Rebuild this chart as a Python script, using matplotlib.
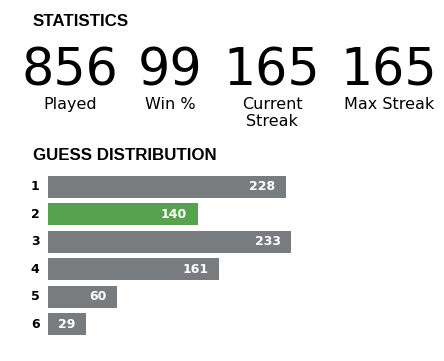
import numpy as np
import matplotlib
matplotlib.use("Agg")
import matplotlib.pyplot as plt

# ----------------------------
# DATA
# ----------------------------
stat_values = ["856", "99", "165", "165"]
stat_labels = ["Played", "Win %", "Current\nStreak", "Max Streak"]

guesses = ["1", "2", "3", "4", "5", "6"]
counts = np.array([228, 140, 233, 161, 60, 29])
highlight = 1  # index of the green bar

W, H = 444, 361
GRAY = "#787c7e"
GREEN = "#56a24f"


def fx(px):
    return px / W


def fy(py):
    return 1 - py / H


fig = plt.figure(figsize=(W / 100, H / 100), dpi=100)
fig.patch.set_facecolor("white")

# ----------------------------
# STATISTICS
# ----------------------------
fig.text(fx(33), fy(26), "STATISTICS", family="Liberation Sans",
         weight="bold", fontsize=12.2, va="baseline", ha="left")

centers = [70, 170, 272, 389]
for cx, val, lab in zip(centers, stat_values, stat_labels):
    fig.text(fx(cx), fy(85), val, family="DejaVu Sans", fontsize=36.5,
             va="baseline", ha="center", color="black")
    fig.text(fx(cx), fy(97), lab, family="DejaVu Sans", fontsize=11.5,
             va="top", ha="center", linespacing=1.2, color="black")

# ----------------------------
# GUESS DISTRIBUTION
# ----------------------------
fig.text(fx(33), fy(160), "GUESS DISTRIBUTION", family="Liberation Sans",
         weight="bold", fontsize=12.2, va="baseline", ha="left")

pad = 9  # minimum bar width
ax_left, ax_right = 48, 444
ax_top, ax_bot = 173, 338
ax = fig.add_axes([fx(ax_left), fy(ax_bot), fx(ax_right - ax_left),
                   (ax_bot - ax_top) / H])
ax.set_xlim(0, (ax_right - ax_left) / 1.004)
ax.set_ylim(len(counts) + 0.5, 0.5)
ax.axis("off")

pos = np.arange(1, len(counts) + 1)
colors = [GREEN if i == highlight else GRAY for i in range(len(counts))]
ax.barh(pos, counts + pad, left=0, height=0.8, color=colors)

for p, c, g in zip(pos, counts, guesses):
    ax.annotate(str(c), xy=(c + pad, p), xytext=(-7.5, 0),
                textcoords="offset points", ha="right", va="center",
                color="white", weight="bold", family="DejaVu Sans",
                fontsize=9)
    ax.annotate(g, xy=(0, p), xytext=(-6, 0), textcoords="offset points",
                ha="right", va="center", weight="bold",
                family="DejaVu Sans", fontsize=9)

fig.savefig("out.png", dpi=100)
